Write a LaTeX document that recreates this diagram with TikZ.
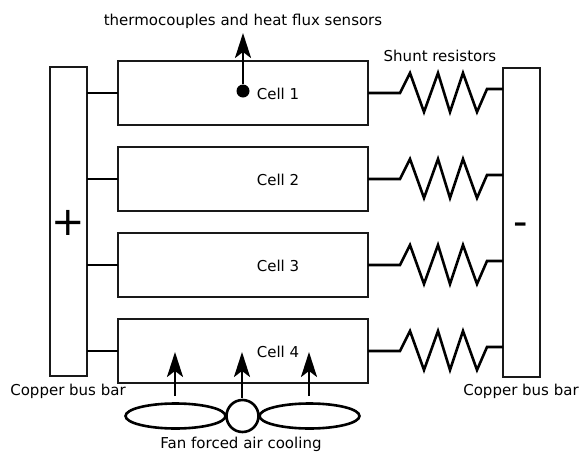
\documentclass[tikz,border=0pt]{standalone}
\usepackage{fontspec}
\setmainfont{DejaVu Sans}
\usetikzlibrary{arrows.meta,shapes.geometric}
\begin{document}
\begin{tikzpicture}[x=1pt,y=-1pt,font=\fontsize{15}{17}\selectfont]
        \tikzstyle{bar}=[rectangle,draw=black!90,line width=2pt,inner sep=0pt,outer sep=0pt,minimum width=37pt,minimum height=309pt]
        \tikzstyle{cell}=[rectangle,draw=black!90,line width=2pt,inner sep=0pt,outer sep=0pt,minimum width=250pt,minimum height=64pt]
        \tikzstyle{wire}=[draw,line width=2.6pt,line join=miter]
        \tikzstyle{flow}=[draw,line width=2.6pt,-{Stealth[length=25pt,width=16pt,inset=6pt]}]
        \tikzstyle{blade}=[ellipse,draw=black,line width=2.6pt,inner sep=0pt,outer sep=0pt,minimum width=100pt,minimum height=25pt]
        \tikzstyle{sign}=[inner sep=0pt,font=\fontsize{40}{44}\selectfont]
        \useasboundingbox (0,0) rectangle (579,453);
       \begin{scope}
         \node [bar] (plus) at (68.5,221) {};
         \node [bar] (minus) at (521.5,222) {};
         \node [cell] (c1) at (243,93) {};
         \node [cell] (c2) at (243,179) {};
         \node [cell] (c3) at (243,265) {};
         \node [cell] (c4) at (243,351) {};
         \node (l1) at (278,93.5) {Cell 1};
         \node (l2) at (278,179.5) {Cell 2};
         \node (l3) at (278,265.5) {Cell 3};
         \node (l4) at (278,351.5) {Cell 4};
         \node [sign] (ps) at (68.5,223) {+};
         \node [sign] (ms) at (521,229) {-};
         \node (tc) at (243,21.5) {thermocouples and heat flux sensors};
         \node (sh) at (440,55.5) {Shunt resistors};
         \node (bl) at (68,391.5) {Copper bus bar};
         \node (br) at (521,391.5) {Copper bus bar};
         \node [inner sep=0pt] (fa) at (241,444.5) {Fan forced air cooling};
         % left side
         \path[wire] (c1.west) -- (c1.west -| plus.east);
         \path[wire] (c2.west) -- (c2.west -| plus.east);
         \path[wire] (c3.west) -- (c3.west -| plus.east);
         \path[wire] (c4.west) -- (c4.west -| plus.east);
         % resistors
         \coordinate (r1) at (503,89);
         \coordinate (r2) at (503,175);
         \coordinate (r3) at (503,261);
         \coordinate (r4) at (503,347);
         \path[wire] (c1.east) -- ++(32,0) -- ++(10,-20) -- ++(14,39) -- ++(14,-39) -- ++(12,39) -- ++(13,-39) -- ++(14,39) -- ++(10,-23) -- (r1);
         \path[wire] (c2.east) -- ++(32,0) -- ++(10,-20) -- ++(14,39) -- ++(14,-39) -- ++(12,39) -- ++(13,-39) -- ++(14,39) -- ++(10,-23) -- (r2);
         \path[wire] (c3.east) -- ++(32,0) -- ++(10,-20) -- ++(14,39) -- ++(14,-39) -- ++(12,39) -- ++(13,-39) -- ++(14,39) -- ++(10,-23) -- (r3);
         \path[wire] (c4.east) -- ++(32,0) -- ++(10,-20) -- ++(14,39) -- ++(14,-39) -- ++(12,39) -- ++(13,-39) -- ++(14,39) -- ++(10,-23) -- (r4);
         % sensor
         \node [circle,fill=black,inner sep=0pt,minimum size=13pt] (dot) at (243,91) {};
         \coordinate (dt) at (243,33);
         \path[flow] (dot) -- (dt);
         % fan
         \node [circle,draw=black,line width=2.6pt,inner sep=0pt,minimum size=32pt] (hub) at (242.5,416) {};
         \node [blade] (b1) at (175.5,416) {};
         \node [blade] (b2) at (309.5,416) {};
         \coordinate (a1) at (175,396);
         \coordinate (a2) at (242,398);
         \coordinate (a3) at (309,396);
         \coordinate (t1) at (175,352);
         \coordinate (t2) at (242,352);
         \coordinate (t3) at (309,352);
         \path[flow] (a1) -- (t1);
         \path[flow] (a2) -- (t2);
         \path[flow] (a3) -- (t3);
        \end{scope}
      \end{tikzpicture}
\end{document}
